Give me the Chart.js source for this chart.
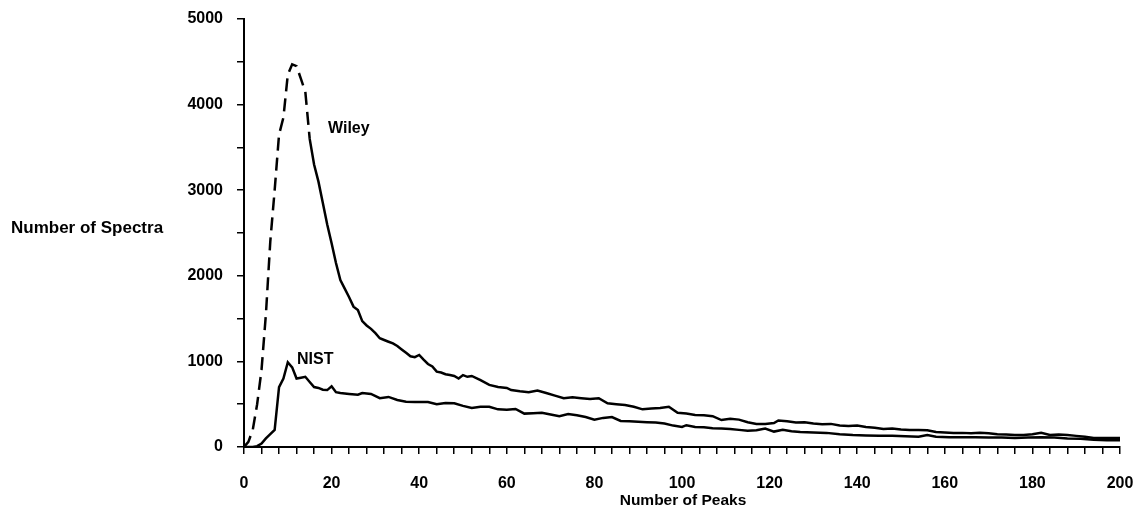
<!DOCTYPE html>
<html>
<head>
<meta charset="utf-8">
<script src="https://cdn.jsdelivr.net/npm/chart.js@4.4.0/dist/chart.umd.min.js"></script>
<style>
  body { margin: 0; background: #fff; }
  #wrap { width: 1138px; height: 512px; position: relative; }
</style>
</head>
<body>
<div id="wrap"><canvas id="peaksChart"></canvas></div>
<script>
// Data (number of peaks vs number of spectra)
const wileyPeaks = [0, 1, 2, 3, 4, 5, 6, 7, 8, 9, 10, 11, 12, 13, 14, 15, 16, 17, 18, 19, 20, 21, 22, 23, 24, 25, 26, 27, 28, 29, 30, 31, 32, 33, 34, 35, 36, 37, 38, 39, 40, 41, 42, 43, 44, 45, 46, 47, 48, 49, 50, 51, 52, 54, 56, 58, 60, 61, 63, 65, 67, 69, 71, 73, 75, 77, 79, 81, 83, 85, 87, 89, 91, 93, 95, 97, 99, 101, 103, 105, 107, 109, 111, 113, 115, 117, 119, 121, 122, 124, 126, 128, 130, 132, 134, 136, 138, 140, 142, 144, 146, 148, 150, 152, 154, 156, 158, 160, 162, 164, 166, 168, 170, 172, 174, 176, 178, 180, 182, 184, 186, 188, 190, 192, 194, 196, 198, 200];
const wileySpectra = [0, 60, 200, 500, 900, 1550, 2400, 3000, 3650, 3850, 4350, 4470, 4450, 4300, 4150, 3600, 3300, 3100, 2850, 2600, 2380, 2150, 1950, 1850, 1750, 1640, 1600, 1470, 1420, 1380, 1330, 1270, 1250, 1230, 1210, 1180, 1140, 1100, 1060, 1050, 1075, 1020, 970, 940, 880, 870, 850, 840, 830, 800, 840, 820, 830, 780, 725, 700, 690, 665, 650, 640, 660, 630, 600, 570, 580, 570, 560, 570, 510, 500, 490, 470, 440, 450, 455, 470, 400, 390, 375, 370, 360, 315, 330, 320, 290, 270, 270, 280, 310, 300, 285, 290, 275, 265, 270, 250, 245, 250, 235, 225, 210, 215, 205, 200, 200, 195, 175, 170, 165, 165, 160, 165, 160, 150, 145, 140, 140, 150, 165, 140, 145, 140, 130, 120, 105, 105, 105, 105];

const nistPeaks = [0, 2, 3, 4, 5, 6, 7, 8, 9, 10, 11, 12, 13, 14, 15, 16, 17, 18, 19, 20, 21, 22, 24, 26, 27, 29, 31, 33, 35, 37, 39, 42, 44, 46, 48, 50, 52, 54, 56, 58, 60, 62, 64, 66, 68, 70, 72, 74, 76, 78, 80, 82, 84, 86, 88, 90, 92, 94, 96, 98, 100, 101, 103, 105, 107, 109, 111, 113, 115, 117, 119, 121, 123, 125, 127, 130, 133, 136, 139, 142, 145, 148, 151, 154, 156, 158, 161, 164, 167, 170, 173, 176, 179, 182, 185, 188, 191, 194, 197, 200];
const nistSpectra = [0, 0, 10, 40, 100, 150, 200, 700, 800, 990, 930, 800, 810, 820, 760, 700, 690, 670, 665, 710, 640, 630, 620, 610, 630, 620, 570, 585, 550, 530, 525, 525, 500, 515, 510, 480, 455, 470, 470, 440, 435, 445, 390, 395, 400, 380, 360, 385, 370, 350, 320, 340, 350, 305, 300, 295, 290, 285, 275, 250, 235, 255, 235, 230, 220, 215, 210, 200, 190, 195, 215, 180, 200, 185, 175, 170, 165, 150, 140, 135, 130, 130, 125, 120, 140, 120, 115, 115, 115, 112, 110, 105, 110, 115, 110, 100, 95, 85, 80, 80];

const xMin = 0, xMax = 200, xStep = 4, xLabelStep = 20;
const yMin = 0, yMax = 5000, yStep = 500, yLabelStep = 1000;

function toPoints(xs, ys) {
  return xs.map((x, i) => ({ x: x, y: ys[i] }));
}

// Axis titles and series labels drawn as plain text
const textPlugin = {
  id: "textLabels",
  afterDraw(chart) {
    const ctx = chart.ctx;
    ctx.save();
    ctx.fillStyle = "#000";
    ctx.textBaseline = "middle";
    ctx.textAlign = "left";
    ctx.font = "bold 17px 'Liberation Sans', Arial, sans-serif";
    ctx.fillText("Number of Spectra", 11, 228);
    ctx.textAlign = "center";
    ctx.font = "bold 15.5px 'Liberation Sans', Arial, sans-serif";
    ctx.fillText("Number of Peaks", 683, 501);
    ctx.textAlign = "left";
    ctx.font = "bold 16px 'Liberation Sans', Arial, sans-serif";
    ctx.fillText("Wiley", 328, 129);
    ctx.fillText("NIST", 297, 360);
    ctx.restore();
  },
};

new Chart(document.getElementById("peaksChart"), {
  type: "line",
  data: {
    datasets: [
      {
        label: "Wiley",
        data: toPoints(wileyPeaks, wileySpectra),
        borderColor: "#000",
        borderWidth: 2.5,
        pointRadius: 0,
        tension: 0,
        segment: {
          // dashed on the steep rise, solid after the peak
          borderDash: (ctx) => (ctx.p0.parsed.x < 15 ? [13, 7] : undefined),
        },
      },
      {
        label: "NIST",
        data: toPoints(nistPeaks, nistSpectra),
        borderColor: "#000",
        borderWidth: 2.5,
        pointRadius: 0,
        tension: 0,
      },
    ],
  },
  options: {
    responsive: true,
    maintainAspectRatio: false,
    animation: false,
    layout: { padding: { top: 19, right: 18, left: 0, bottom: 0 } },
    plugins: {
      legend: { display: false },
      tooltip: { enabled: false },
    },
    scales: {
      x: {
        type: "linear",
        min: xMin,
        max: xMax,
        afterFit(scale) {
          scale.height = 65;
          scale.paddingLeft = 0;
          scale.paddingRight = 0;
        },
        border: { color: "#000", width: 2 },
        grid: { drawOnChartArea: false, color: "#000", lineWidth: 1.5, tickLength: 7 },
        ticks: {
          stepSize: xStep,
          autoSkip: false,
          maxRotation: 0,
          padding: 20,
          color: "#000",
          font: { family: "'Liberation Sans', Arial, sans-serif", size: 16, weight: "bold" },
          callback: (v) => (v % xLabelStep === 0 ? v : ""),
        },
      },
      y: {
        type: "linear",
        min: yMin,
        max: yMax,
        afterFit(scale) {
          scale.width = 244;
          scale.paddingTop = 0;
          scale.paddingBottom = 0;
        },
        border: { color: "#000", width: 2 },
        grid: { drawOnChartArea: false, color: "#000", lineWidth: 1.5, tickLength: 7 },
        ticks: {
          stepSize: yStep,
          autoSkip: false,
          padding: 14,
          color: "#000",
          font: { family: "'Liberation Sans', Arial, sans-serif", size: 16, weight: "bold" },
          callback: (v) => (v % yLabelStep === 0 ? v : ""),
        },
      },
    },
  },
  plugins: [textPlugin],
});
</script>
</body>
</html>
